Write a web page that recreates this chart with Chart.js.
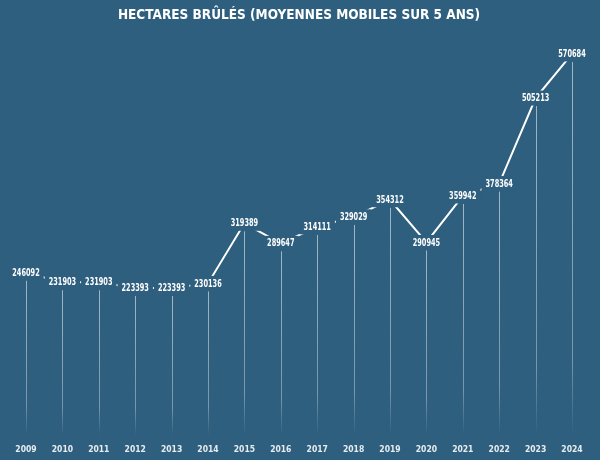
<!DOCTYPE html>
<html>
<head>
<meta charset="utf-8">
<script src="https://cdn.jsdelivr.net/npm/chart.js@4.4.0/dist/chart.umd.min.js"></script>
<style>
html,body{margin:0;padding:0;background:#2E5F7E;}
#wrap{width:600px;height:460px;position:relative;}
</style>
</head>
<body>
<div id="wrap"><canvas id="c" width="600" height="460"></canvas></div>
<script>
const years = ["2009","2010","2011","2012","2013","2014","2015","2016","2017","2018","2019","2020","2021","2022","2023","2024"];
const hectares = [246092,231903,231903,223393,223393,230136,319389,289647,314111,329029,354312,290945,359942,378364,505213,570684];
const titleText = "HECTARES BRÛLÉS (MOYENNES MOBILES SUR 5 ANS)";

const BG = "#2E5F7E";
const NARROW = "'DejaVu Sans Condensed', 'DejaVu Sans', sans-serif";
const SX = 0.73;

const labelPlugin = {
  id: "labelPlugin",
  beforeDatasetsDraw(chart) {
    const ctx = chart.ctx;
    const meta = chart.getDatasetMeta(0);
    const bottom = chart.chartArea.bottom - 3;
    ctx.save();
    meta.data.forEach((pt) => {
      const top = pt.y + 8;
      const g = ctx.createLinearGradient(0, top, 0, bottom);
      g.addColorStop(0, "rgba(255,255,255,0.55)");
      g.addColorStop(0.8, "rgba(255,255,255,0.35)");
      g.addColorStop(1, "rgba(255,255,255,0.0)");
      ctx.strokeStyle = g;
      ctx.lineWidth = 1;
      ctx.beginPath();
      ctx.moveTo(Math.round(pt.x) + 0.5, top);
      ctx.lineTo(Math.round(pt.x) + 0.5, bottom);
      ctx.stroke();
    });
    ctx.restore();
  },
  afterDatasetsDraw(chart) {
    const ctx = chart.ctx;
    const meta = chart.getDatasetMeta(0);
    const data = chart.data.datasets[0].data;
    ctx.save();
    ctx.font = "bold 10px " + NARROW;
    ctx.textAlign = "center";
    ctx.textBaseline = "middle";
    meta.data.forEach((pt, i) => {
      const txt = String(data[i]);
      const w = ctx.measureText(txt).width * SX;
      ctx.fillStyle = BG;
      ctx.fillRect(pt.x - w / 2 - 4, pt.y - 7.5, w + 8, 15);
    });
    meta.data.forEach((pt, i) => {
      ctx.save();
      ctx.translate(pt.x, pt.y + 0.5);
      ctx.scale(SX, 1);
      ctx.fillStyle = "#FFFFFF";
      ctx.fillText(String(data[i]), 0, 0);
      ctx.restore();
    });
    ctx.restore();
  }
};

new Chart(document.getElementById("c"), {
  type: "line",
  data: {
    labels: years,
    datasets: [{
      data: hectares,
      borderColor: "#FFFFFF",
      borderWidth: 2,
      pointRadius: 0,
      tension: 0,
      fill: false
    }]
  },
  options: {
    responsive: false,
    animation: false,
    devicePixelRatio: 1,
    layout: { padding: { left: 26, right: 28, top: 0, bottom: 0 } },
    plugins: {
      legend: { display: false },
      tooltip: { enabled: false },
      title: {
        display: true,
        text: titleText,
        color: "#FFFFFF",
        font: { family: NARROW, size: 13.5, weight: "bold" },
        padding: { top: 7, bottom: 11 }
      }
    },
    scales: {
      x: {
        offset: false,
        grid: { display: false, drawTicks: false },
        border: { display: false },
        afterFit(scale) { scale.height = 21.5; },
        ticks: {
          color: "#E6ECF0",
          font: { family: NARROW, size: 8.5, weight: "bold" },
          padding: 6.4,
          maxRotation: 0,
          autoSkip: false
        }
      },
      y: {
        display: false,
        min: 0,
        max: 600000
      }
    }
  },
  plugins: [labelPlugin]
});
</script>
</body>
</html>
